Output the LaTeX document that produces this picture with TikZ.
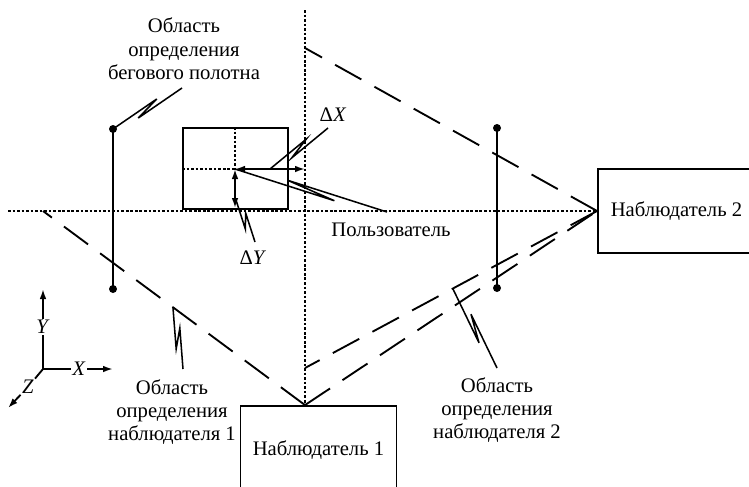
\documentclass[tikz,border=0pt]{standalone}
\usepackage{fontspec}
\setmainfont{Liberation Serif}
\usetikzlibrary{arrows.meta,calc}
\newcommand\zzleader[4]{%
  \draw[leader] (#1) -- ($(#1)!0.66!(#2)!2.6pt!#3:(#2)$) -- ($(#1)!0.34!(#2)!2.6pt!#4:(#2)$) -- (#2);}
\begin{document}
\begin{tikzpicture}[x=0.75pt,y=-0.75pt,
  every node/.style={font=\fontsize{15.5}{17.5}\selectfont, inner sep=1pt},
  strokeln/.style={line width=1.4pt},
  dotline/.style={line width=1.1pt, dash pattern=on 2pt off 1.4pt},
  dashline/.style={line width=1.4pt, dash pattern=on 22.5pt off 11.25pt},
  leader/.style={line width=1.15pt},
  tipend/.style={-{Latex[length=7.5pt,width=5pt]}},
  tipboth/.style={{Latex[length=7.5pt,width=5pt]}-{Latex[length=7.5pt,width=5pt]}},
  boxnode/.style={draw, line width=1.4pt},
  endpt/.style={circle, fill, inner sep=0pt, minimum size=6pt}
]
\useasboundingbox (0,0) rectangle (749,486);

% observers
\node[boxnode, minimum width=117.75pt, minimum height=63pt] (obs2) at (676.5,211) {Наблюдатель 2};
\node[boxnode, minimum width=117pt, minimum height=66pt] (obs1) at (318.5,450) {Наблюдатель 1};

% main dotted axes
\coordinate (vtop) at (305,10);
\coordinate (hleft) at (8,211);
\coordinate (A1) at (obs1.north -| vtop);
\coordinate (A2) at (obs2.west |- hleft);
\draw[dotline] (vtop) -- (A1);
\draw[dotline] (hleft) -- (A2);

% view regions
\coordinate (B1) at (43,211);
\coordinate (B2) at (305,48);
\coordinate (B3) at (305,368);
\draw[dashline] (A1) -- (B1);
\draw[dashline] (A1) -- (A2);
\draw[dashline] (A2) -- (B2);
\draw[dashline] (A2) -- (B3);

% belt segments
\node[endpt] (L1) at (113,129) {};
\node[endpt] (L2) at (113,289) {};
\draw[strokeln] (L1.center) -- (L2.center);
\node[endpt] (R1) at (497,128) {};
\node[endpt] (R2) at (497,288) {};
\draw[strokeln] (R1.center) -- (R2.center);

% user
\node[boxnode, minimum width=78.75pt, minimum height=60.75pt] (user) at (235.5,168.5) {};
\coordinate (uc) at (235,169);
\draw[dotline] (user.north -| uc) -- (uc);
\draw[dotline] (user.west |- uc) -- (uc);
\coordinate (dxtip) at (305,169);
\coordinate (dytip) at (235,208);
\draw[strokeln, tipboth] (uc) -- (dxtip);
\draw[strokeln, tipboth] (uc) -- (dytip);

% labels
\node[align=center] (lblBelt) at (184,49) {Область\\определения\\бегового полотна};
\node[align=center] (lblObs1) at (172,412) {Область\\определения\\наблюдателя 1};
\node[align=center] (lblObs2) at (497,410) {Область\\определения\\наблюдателя 2};
\node (lblUser) at (391,230) {Пользователь};
\node (lblDX) at (333,115) {Δ\textit{X}};
\node (lblDY) at (253,258) {Δ\textit{Y}};

% leaders
\coordinate (kBelt) at (182,88);
\coordinate (kObs1a) at (183,369);
\coordinate (kObs1b) at (173,308);
\coordinate (kObs2a) at (497,368);
\coordinate (kObs2b) at (453,289);
\coordinate (kUser) at (387,212);
\coordinate (kDXa) at (328,128);
\coordinate (kDXb) at (270,169);
\coordinate (kDYa) at (255,242);
\coordinate (kDYb) at (236,200);
\zzleader{kBelt}{L1.center}{90}{-90}
\zzleader{kObs1a}{kObs1b}{-90}{90}
\zzleader{kObs2a}{kObs2b}{-90}{90}
\zzleader{kUser}{uc}{-90}{90}
\zzleader{kDXa}{kDXb}{90}{-90}
\zzleader{kDYa}{kDYb}{-90}{90}

% coordinate axes
\coordinate (O) at (43,369);
\node (Ylab) at (43,327) {\textit{Y}};
\node (Xlab) at (79,369) {\textit{X}};
\node (Zlab) at (28,387) {\textit{Z}};
\coordinate (Ytip) at (43,289);
\coordinate (Xtip) at (113,369);
\coordinate (Ztip) at (8,408);
\draw[strokeln] (O) -- (Ylab);
\draw[strokeln] (O) -- (Xlab);
\draw[strokeln] (O) -- (Zlab);
\draw[strokeln, tipend] (Ylab) -- (Ytip);
\draw[strokeln, tipend] (Xlab) -- (Xtip);
\draw[strokeln, tipend] (Zlab) -- (Ztip);
\end{tikzpicture}
\end{document}
